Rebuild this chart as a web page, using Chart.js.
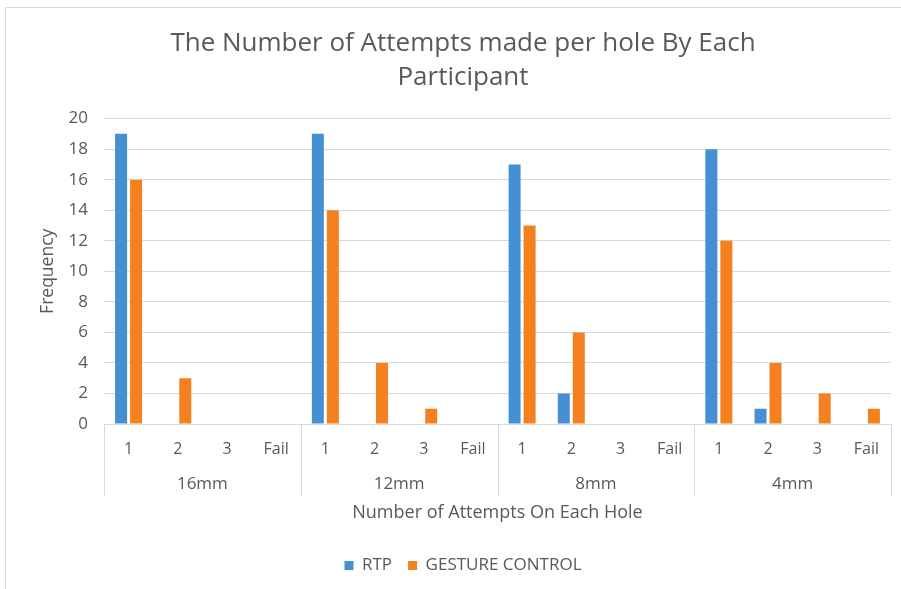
<!DOCTYPE html>
<html>
<head>
<meta charset="utf-8">
<script src="https://cdn.jsdelivr.net/npm/chart.js@4"></script>
<style>
  html, body { margin: 0; padding: 0; background: #ffffff; }
  #wrap { width: 901px; height: 589px; position: relative; }
</style>
</head>
<body>
<div id="wrap"><canvas id="c" width="901" height="589"></canvas></div>
<script>
const groups = ['16mm', '12mm', '8mm', '4mm'];
const attempts = ['1', '2', '3', 'Fail'];
const rtpValues = [19, 0, 0, 0, 19, 0, 0, 0, 17, 2, 0, 0, 18, 1, 0, 0];
const gestureValues = [16, 3, 0, 0, 14, 4, 1, 0, 13, 6, 0, 0, 12, 4, 2, 1];
const yTicks = [0, 2, 4, 6, 8, 10, 12, 14, 16, 18, 20];

const labels = [];
groups.forEach(g => attempts.forEach(a => labels.push(a)));

const FONT = 'Open Sans';
const TEXT = '#595959';
const GRID = '#d9d9d9';

const groupPlugin = {
  id: 'groupAxis',
  beforeDraw(chart) {
    const ctx = chart.ctx;
    ctx.save();
    ctx.fillStyle = '#ffffff';
    ctx.fillRect(0, 0, chart.width, chart.height);
    ctx.strokeStyle = GRID;
    ctx.lineWidth = 1;
    ctx.beginPath();
    ctx.moveTo(5.5, chart.height + 5);
    ctx.lineTo(5.5, 7.5);
    ctx.lineTo(chart.width + 5, 7.5);
    ctx.stroke();
    ctx.restore();
  },
  afterDraw(chart) {
    const ctx = chart.ctx;
    const x = chart.scales.x;
    const bottom = chart.chartArea.bottom;
    const n = attempts.length;
    const step = x.getPixelForValue(1) - x.getPixelForValue(0);
    ctx.save();
    ctx.strokeStyle = GRID;
    ctx.lineWidth = 1;
    ctx.font = '17px "' + FONT + '"';
    ctx.fillStyle = TEXT;
    ctx.textAlign = 'center';
    ctx.textBaseline = 'middle';
    groups.forEach((g, gi) => {
      const l = x.getPixelForValue(gi * n) - step / 2;
      const r = x.getPixelForValue(gi * n + n - 1) + step / 2;
      [l, r].forEach(px => {
        const xx = Math.round(px) + 0.5;
        ctx.beginPath();
        ctx.moveTo(xx, bottom);
        ctx.lineTo(xx, bottom + 72);
        ctx.stroke();
      });
      ctx.fillText(g, (l + r) / 2, bottom + 60);
    });
    ctx.restore();
  }
};

new Chart(document.getElementById('c'), {
  type: 'bar',
  data: {
    labels: labels,
    datasets: [
      { label: 'RTP', data: rtpValues, backgroundColor: '#4590d3', borderWidth: 0 },
      { label: 'GESTURE CONTROL', data: gestureValues, backgroundColor: '#f5801f', borderWidth: 0 }
    ]
  },
  options: {
    responsive: false,
    animation: false,
    devicePixelRatio: 1,
    categoryPercentage: 0.61,
    barPercentage: 0.8,
    layout: { padding: { left: 35, right: 10, top: 0, bottom: 5 } },
    plugins: {
      title: {
        display: true,
        text: ['The Number of Attempts made per hole By Each', 'Participant'],
        color: TEXT,
        font: { family: FONT, size: 26, weight: 'normal', lineHeight: 1.3 },
        padding: { top: 27, bottom: 24 }
      },
      legend: {
        position: 'bottom',
        labels: {
          color: TEXT,
          font: { family: FONT, size: 17 },
          boxWidth: 9,
          boxHeight: 9,
          padding: 16
        }
      },
      tooltip: { enabled: false }
    },
    scales: {
      x: {
        grid: { display: false, drawTicks: false },
        border: { display: true, color: GRID },
        ticks: { color: TEXT, font: { family: FONT, size: 16 }, padding: 16, maxRotation: 0, autoSkip: false },
        title: {
          display: true,
          text: 'Number of Attempts On Each Hole',
          color: TEXT,
          font: { family: FONT, size: 18 },
          padding: { top: 0, bottom: 17 }
        },
        afterFit(s) { s.height = 117; }
      },
      y: {
        min: 0,
        max: 20,
        afterBuildTicks(s) { s.ticks = yTicks.map(v => ({ value: v })); },
        grid: { color: GRID, drawTicks: false },
        border: { display: false },
        ticks: { color: TEXT, font: { family: FONT, size: 17 }, padding: 16 },
        title: {
          display: true,
          text: 'Frequency',
          color: TEXT,
          font: { family: FONT, size: 17.5 },
          padding: { top: 3, bottom: 0 }
        },
        afterFit(s) { s.width = 69; }
      }
    }
  },
  plugins: [groupPlugin]
});
</script>
</body>
</html>
